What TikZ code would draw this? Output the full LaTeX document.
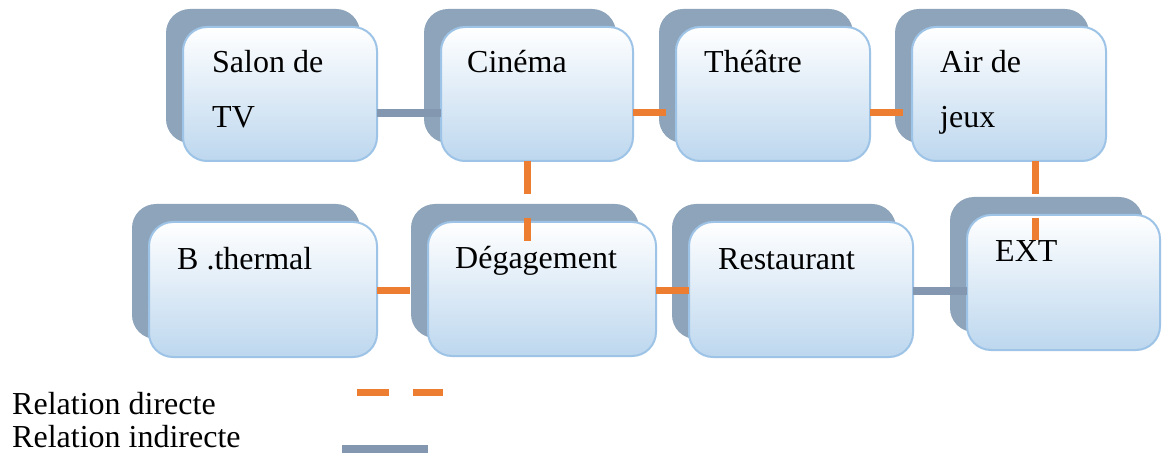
\documentclass[tikz,border=0pt]{standalone}
\usepackage{fontspec}
\setmainfont{Liberation Serif}
\usetikzlibrary{calc,shadows}
\definecolor{backgray}{HTML}{8EA4BA}
\definecolor{boxblue}{HTML}{BDD7EE}
\definecolor{boxedge}{HTML}{9DC3E6}
\definecolor{dirorange}{HTML}{ED7D31}
\definecolor{indgray}{HTML}{8497B0}
\tikzset{
  frontbox/.style={rectangle, rounded corners=24pt, draw=boxedge, line width=2pt,
    top color=white, bottom color=boxblue, anchor=north west, inner sep=0pt, outer sep=0pt,
    general shadow={shadow xshift=-17pt, shadow yshift=18pt, fill=backgray, draw=none}},
  boxtext/.style={anchor=base west, inner sep=0pt, font=\fontsize{32}{38}\selectfont},
  direct/.style={draw=dirorange, line width=7pt, dash pattern=on 33pt off 24pt},
  indirect/.style={draw=indgray, line width=8pt},
}
\begin{document}
\begin{tikzpicture}[x=1pt,y=-1pt]
\useasboundingbox (0,0) rectangle (1167,454);
% boxes
\node[frontbox, minimum width=194pt, minimum height=134pt] (salon) at (183,27) {};
\node[frontbox, minimum width=192pt, minimum height=134pt] (cinema) at (441,27) {};
\node[frontbox, minimum width=194pt, minimum height=134pt] (theatre) at (676,27) {};
\node[frontbox, minimum width=194pt, minimum height=134pt] (air) at (912,27) {};
\node[frontbox, minimum width=228pt, minimum height=135pt] (therm) at (149,222) {};
\node[frontbox, minimum width=228pt, minimum height=134pt] (deg) at (428,222) {};
\node[frontbox, minimum width=224pt, minimum height=135pt] (rest) at (689,222) {};
\node[frontbox, minimum width=193pt, minimum height=135pt] (ext) at (967,215) {};
% texts
\node[boxtext] (t1a) at ($(salon.north west)+(29,46)$) {Salon de};
\node[boxtext] (t1b) at ($(salon.north west)+(29,101)$) {TV};
\node[boxtext] (t2) at ($(cinema.north west)+(26,46)$) {Cinéma};
\node[boxtext] (t3) at ($(theatre.north west)+(28,46)$) {Théâtre};
\node[boxtext] (t4a) at ($(air.north west)+(28,46)$) {Air de};
\node[boxtext] (t4b) at ($(air.north west)+(28,101)$) {jeux};
\node[boxtext] (t5) at ($(therm.north west)+(28,48)$) {B .thermal};
\node[boxtext] (t6) at ($(deg.north west)+(27,47)$) {Dégagement};
\node[boxtext] (t7) at ($(rest.north west)+(29,48)$) {Restaurant};
\node[boxtext] (t8) at ($(ext.north west)+(28,47)$) {EXT};
% connectors
\coordinate (c1) at ($(salon.east)+(0,19)$);
\draw[indirect] (c1) -- (c1 -| cinema.west);
\coordinate (c2) at ($(cinema.east)+(0,19)$);
\draw[direct] (c2) -- (c2 -| theatre.west);
\coordinate (c3) at ($(theatre.east)+(0,19)$);
\draw[direct] (c3) -- (c3 -| air.west);
\coordinate (c4) at ($(cinema.south)+(-10,0)$);
\coordinate (c4e) at (527,241);
\draw[direct] (c4) -- (c4e);
\coordinate (c5) at ($(air.south)+(26,0)$);
\coordinate (c5e) at (1035,240);
\draw[direct] (c5) -- (c5e);
\coordinate (c6) at ($(therm.east)+(0,1.5)$);
\draw[direct] (c6) -- (c6 -| deg.west);
\coordinate (c7) at ($(deg.east)+(0,2)$);
\draw[direct] (c7) -- (c7 -| rest.west);
\coordinate (c8) at ($(rest.east)+(0,1.5)$);
\draw[indirect] (c8) -- (c8 -| ext.west);
% legend
\node[boxtext] (l1) at (12,414) {Relation directe};
\node[boxtext] (l2) at (12,447) {Relation indirecte};
\coordinate (d1) at (357,392);
\coordinate (d2) at (443,392);
\draw[direct, dash pattern=on 32pt off 24pt] (d1) -- (d2);
\coordinate (g1) at (342,449);
\coordinate (g2) at (428,449);
\draw[indirect] (g1) -- (g2);
\end{tikzpicture}
\end{document}
